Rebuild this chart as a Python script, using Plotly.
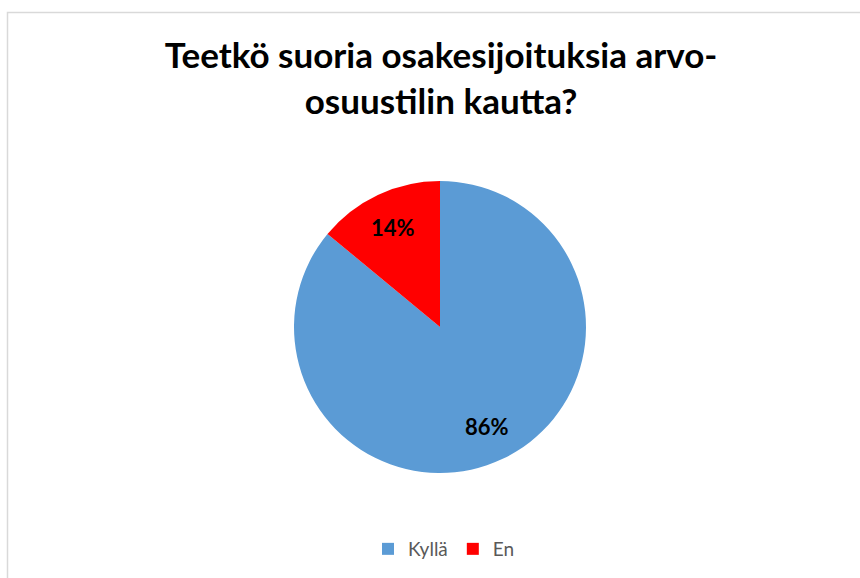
import math
import plotly.graph_objects as go

labels = ["Kyllä", "En"]
values = [86, 14]
colors = ["#5B9BD5", "#FF0000"]
title_text = "Teetkö suoria osakesijoituksia arvo-<br>osuustilin kautta?"

W, H = 860, 578
CX, CY, R = 440, 327, 146  # pie centre and radius in pixels

def px_x(x):
    return x / W

def px_y(y):
    return 1 - y / H

fig = go.Figure(go.Pie(
    labels=labels,
    values=values,
    sort=False,
    direction="clockwise",
    rotation=0,
    marker=dict(colors=colors, line=dict(width=0)),
    textinfo="none",
    domain=dict(x=[px_x(CX - R), px_x(CX + R)], y=[px_y(CY + R), px_y(CY - R)]),
    hoverinfo="label+percent",
))

# data labels placed on each slice's bisector, derived from the values
total = sum(values)
annotations = []
cum = 0
for lab, v in zip(labels, values):
    mid = (cum + v / 2) / total * 2 * math.pi
    cum += v
    d = 0.75 * R
    x = CX + d * math.sin(mid)
    y = CY - d * math.cos(mid)
    annotations.append(dict(
        x=px_x(x), y=px_y(y), xref="paper", yref="paper",
        text=f"{round(v / total * 100)}%", showarrow=False,
        font=dict(family="Lato", size=22, color="#000000", weight="bold"),
        xanchor="center", yanchor="middle",
    ))

fig.update_layout(
    width=W, height=H,
    margin=dict(l=0, r=0, t=0, b=0),
    paper_bgcolor="white",
    plot_bgcolor="white",
    title=dict(
        text=title_text,
        x=px_x(441), xanchor="center",
        y=px_y(68), yanchor="top",
        font=dict(family="Lato", size=35, color="#000000", weight="bold"),
    ),
    legend=dict(
        orientation="h",
        x=px_x(444), xanchor="center",
        y=px_y(549), yanchor="middle",
        font=dict(family="Lato", size=19, color="#595959"),
        itemwidth=30,
    ),
    annotations=annotations,
    shapes=[dict(
        type="rect", xref="paper", yref="paper",
        x0=px_x(7.5), x1=1.05, y0=-0.05, y1=px_y(12.5),
        line=dict(color="#D9D9D9", width=1.5),
    )],
)

fig.write_html("out.html")
